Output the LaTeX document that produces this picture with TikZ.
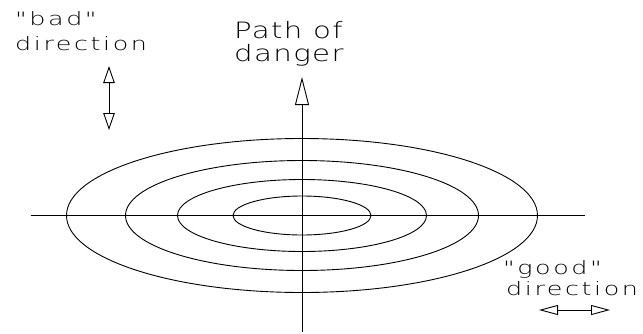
\documentclass[tikz,border=0pt]{standalone}
\usepackage{fontspec}
\usetikzlibrary{arrows.meta}
\newfontfamily\cadsmall[FakeStretch=1.38,LetterSpace=14]{DejaVuSans-ExtraLight.ttf}
\newfontfamily\cadbig[FakeStretch=1.3,LetterSpace=6]{DejaVuSans-ExtraLight.ttf}
\tikzset{
  lbl/.style={inner sep=0pt, anchor=base west, font=\cadsmall\fontsize{18.4pt}{20pt}\selectfont},
  biglbl/.style={inner sep=0pt, anchor=base west, font=\cadbig\fontsize{22.5pt}{24pt}\selectfont},
  axis/.style={line width=0.9pt, black},
  ring/.style={line width=0.9pt, black},
}
\begin{document}
\begin{tikzpicture}[x=1pt,y=-1pt]
\useasboundingbox (0,0) rectangle (643,333);
% ellipses
\coordinate (c) at (302,215.5);
\draw[ring] (c) ellipse [x radius=235.5, y radius=77];
\draw[ring] (c) ellipse [x radius=176.5, y radius=55];
\draw[ring] (c) ellipse [x radius=124.5, y radius=36];
\draw[ring] (c) ellipse [x radius=69, y radius=19.5];
% axes
\coordinate (hl) at (30.5,215.5);
\coordinate (hr) at (585,215.5);
\coordinate (vb) at (302,332);
\coordinate (vt) at (302,77);
\draw[axis] (hl) -- (hr);
\draw[axis, -{Triangle[open, fill=white, length=28pt, width=14pt]}] (vb) -- (vt);
% bad direction arrow
\coordinate (ba) at (109,66);
\coordinate (bb) at (109,130);
\draw[axis, {Triangle[open, fill=white, length=17pt, width=11.5pt]}-{Triangle[open, fill=white, length=17pt, width=11.5pt]}] (ba) -- (bb);
% good direction arrow
\coordinate (ga) at (539,310);
\coordinate (gb) at (610,310);
\draw[axis, {Triangle[open, fill=white, length=19pt, width=10pt]}-{Triangle[open, fill=white, length=19pt, width=10pt]}] (ga) -- (gb);
% labels
\node[lbl] (bad1) at (15,25.7) {"bad"};
\node[lbl] (bad2) at (15,50.7) {direction};
\node[biglbl] (p1) at (234,38.7) {Path of};
\node[biglbl] (p2) at (234,61.3) {danger};
\node[lbl] (good1) at (503,274) {"good"};
\node[lbl] (good2) at (506,295.7) {direction};
\end{tikzpicture}
\end{document}
